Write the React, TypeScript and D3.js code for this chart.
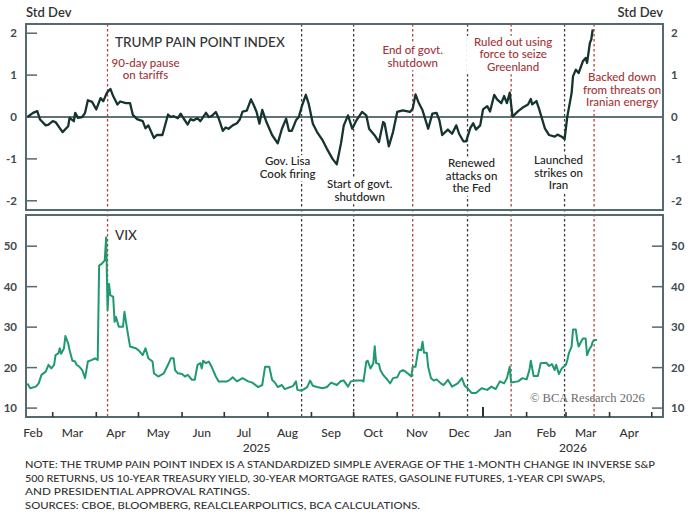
import React from 'react';
import * as d3 from 'd3';

// Trump Pain Point Index (std dev)
const painIndex: [string, number][] = [
  ['2025-02-11', 0.0], ['2025-02-15', 0.1], ['2025-02-18', 0.14], ['2025-02-20', -0.06],
  ['2025-02-24', -0.2], ['2025-02-26', -0.18], ['2025-03-01', -0.1], ['2025-03-03', -0.12],
  ['2025-03-08', -0.36], ['2025-03-12', -0.22], ['2025-03-13', -0.02], ['2025-03-16', -0.1],
  ['2025-03-17', 0.1], ['2025-03-19', -0.02], ['2025-03-22', 0.0], ['2025-03-24', 0.1],
  ['2025-03-26', 0.4], ['2025-03-29', 0.36], ['2025-04-01', 0.18], ['2025-04-04', 0.45],
  ['2025-04-06', 0.38], ['2025-04-08', 0.54], ['2025-04-09', 0.6], ['2025-04-11', 0.67],
  ['2025-04-13', 0.5], ['2025-04-16', 0.3], ['2025-04-18', 0.37], ['2025-04-22', 0.33],
  ['2025-04-25', 0.33], ['2025-04-27', 0.05], ['2025-04-30', -0.05], ['2025-05-04', -0.1],
  ['2025-05-06', -0.27], ['2025-05-08', -0.2], ['2025-05-12', -0.5], ['2025-05-14', -0.43],
  ['2025-05-18', -0.43], ['2025-05-22', 0.06], ['2025-05-24', 0.0], ['2025-05-26', 0.02],
  ['2025-05-29', -0.03], ['2025-05-31', 0.08], ['2025-06-02', -0.03], ['2025-06-05', -0.18],
  ['2025-06-07', -0.05], ['2025-06-09', -0.08], ['2025-06-12', -0.03], ['2025-06-14', -0.1],
  ['2025-06-18', 0.1], ['2025-06-20', 0.0], ['2025-06-22', 0.02], ['2025-06-25', 0.12],
  ['2025-06-27', -0.03], ['2025-06-30', -0.33], ['2025-07-02', -0.25], ['2025-07-04', -0.28],
  ['2025-07-07', -0.2], ['2025-07-10', -0.15], ['2025-07-12', -0.06], ['2025-07-14', 0.13],
  ['2025-07-17', 0.15], ['2025-07-20', 0.42], ['2025-07-22', 0.28], ['2025-07-24', 0.12],
  ['2025-07-26', -0.16], ['2025-07-28', 0.17], ['2025-07-31', -0.12], ['2025-08-04', -0.43],
  ['2025-08-08', -0.63], ['2025-08-11', -0.28], ['2025-08-14', -0.04], ['2025-08-16', -0.33],
  ['2025-08-18', -0.33], ['2025-08-21', -0.08], ['2025-08-23', 0.0], ['2025-08-25', 0.24],
  ['2025-08-28', 0.53], ['2025-08-30', 0.32], ['2025-09-02', -0.16], ['2025-09-05', -0.36],
  ['2025-09-09', -0.56], ['2025-09-12', -0.76], ['2025-09-16', -1.0], ['2025-09-19', -1.13],
  ['2025-09-22', -0.63], ['2025-09-24', -0.2], ['2025-09-27', 0.04], ['2025-09-30', -0.28],
  ['2025-10-03', -0.08], ['2025-10-07', 0.12], ['2025-10-10', 0.04], ['2025-10-12', -0.28],
  ['2025-10-16', -0.44], ['2025-10-19', -0.6], ['2025-10-22', -0.12], ['2025-10-23', -0.15],
  ['2025-10-26', -0.7], ['2025-10-29', -0.36], ['2025-11-01', 0.12], ['2025-11-05', 0.16],
  ['2025-11-10', 0.12], ['2025-11-12', 0.2], ['2025-11-14', 0.54], ['2025-11-16', 0.36],
  ['2025-11-19', 0.16], ['2025-11-23', -0.28], ['2025-11-26', 0.08], ['2025-11-29', 0.1],
  ['2025-12-01', -0.08], ['2025-12-03', -0.43], ['2025-12-07', -0.3], ['2025-12-10', -0.4],
  ['2025-12-13', -0.2], ['2025-12-15', -0.4], ['2025-12-18', -0.58], ['2025-12-20', -0.58],
  ['2025-12-23', -0.26], ['2025-12-25', -0.15], ['2025-12-27', -0.3], ['2025-12-30', -0.2],
  ['2026-01-01', 0.18], ['2026-01-04', 0.26], ['2026-01-06', 0.13], ['2026-01-09', 0.53],
  ['2026-01-11', 0.42], ['2026-01-14', 0.33], ['2026-01-16', 0.5], ['2026-01-18', 0.33],
  ['2026-01-20', 0.58], ['2026-01-22', 0.01], ['2026-01-26', 0.14], ['2026-01-29', 0.22],
  ['2026-02-02', 0.3], ['2026-02-04', 0.43], ['2026-02-05', 0.3], ['2026-02-08', 0.38],
  ['2026-02-10', 0.18], ['2026-02-14', -0.27], ['2026-02-17', -0.43], ['2026-02-21', -0.47],
  ['2026-02-23', -0.42], ['2026-02-26', -0.47], ['2026-02-28', -0.53], ['2026-03-02', 0.02],
  ['2026-03-05', 0.57], ['2026-03-06', 0.97], ['2026-03-08', 1.13], ['2026-03-10', 1.05],
  ['2026-03-13', 1.33], ['2026-03-15', 1.41], ['2026-03-16', 1.29], ['2026-03-18', 1.77],
  ['2026-03-19', 1.85], ['2026-03-20', 2.09],
];

// VIX level
const vix: [string, number][] = [
  ['2025-02-11', 16.1], ['2025-02-13', 14.9], ['2025-02-17', 15.3], ['2025-02-19', 16.1],
  ['2025-02-21', 18.2], ['2025-02-24', 19.0], ['2025-02-26', 20.7], ['2025-02-28', 19.8],
  ['2025-03-02', 20.7], ['2025-03-03', 23.1], ['2025-03-05', 23.5], ['2025-03-06', 24.8],
  ['2025-03-07', 23.4], ['2025-03-09', 24.8], ['2025-03-10', 27.8], ['2025-03-12', 26.0],
  ['2025-03-13', 24.3], ['2025-03-15', 21.7], ['2025-03-17', 21.5], ['2025-03-18', 20.7],
  ['2025-03-20', 20.2], ['2025-03-22', 19.4], ['2025-03-24', 17.4], ['2025-03-26', 21.5],
  ['2025-03-29', 21.9], ['2025-03-31', 22.3], ['2025-04-02', 21.9], ['2025-04-03', 45.2],
  ['2025-04-05', 45.7], ['2025-04-07', 46.5], ['2025-04-08', 52.2], ['2025-04-09', 34.2],
  ['2025-04-10', 40.7], ['2025-04-11', 37.9], ['2025-04-13', 37.5], ['2025-04-14', 31.3],
  ['2025-04-15', 32.5], ['2025-04-17', 30.1], ['2025-04-20', 30.1], ['2025-04-21', 33.8],
  ['2025-04-23', 29.3], ['2025-04-25', 25.2], ['2025-04-29', 24.8], ['2025-05-01', 24.3],
  ['2025-05-04', 23.1], ['2025-05-06', 24.8], ['2025-05-08', 22.3], ['2025-05-11', 21.5],
  ['2025-05-12', 18.6], ['2025-05-15', 17.8], ['2025-05-19', 18.6], ['2025-05-22', 20.7],
  ['2025-05-24', 22.3], ['2025-05-26', 22.3], ['2025-05-27', 19.4], ['2025-05-29', 18.6],
  ['2025-06-01', 18.4], ['2025-06-03', 17.8], ['2025-06-05', 18.2], ['2025-06-08', 17.0],
  ['2025-06-10', 17.0], ['2025-06-12', 20.7], ['2025-06-14', 21.1], ['2025-06-15', 19.8],
  ['2025-06-16', 21.7], ['2025-06-18', 21.1], ['2025-06-20', 21.5], ['2025-06-22', 20.2],
  ['2025-06-25', 17.8], ['2025-06-27', 16.6], ['2025-06-30', 16.6], ['2025-07-03', 16.6],
  ['2025-07-05', 17.0], ['2025-07-07', 17.6], ['2025-07-10', 16.6], ['2025-07-14', 17.4],
  ['2025-07-18', 16.6], ['2025-07-21', 16.3], ['2025-07-25', 15.2], ['2025-07-28', 15.7],
  ['2025-07-30', 20.2], ['2025-08-02', 20.2], ['2025-08-04', 17.0], ['2025-08-06', 16.3],
  ['2025-08-08', 15.2], ['2025-08-11', 15.7], ['2025-08-13', 14.7], ['2025-08-17', 15.2],
  ['2025-08-19', 15.5], ['2025-08-21', 16.6], ['2025-08-22', 14.5], ['2025-08-25', 14.3],
  ['2025-08-29', 15.2], ['2025-08-31', 16.8], ['2025-09-02', 15.5], ['2025-09-05', 15.2],
  ['2025-09-09', 14.9], ['2025-09-12', 15.2], ['2025-09-15', 16.3], ['2025-09-19', 15.7],
  ['2025-09-22', 16.7], ['2025-09-24', 16.8], ['2025-09-27', 15.3], ['2025-09-29', 16.6],
  ['2025-10-03', 16.8], ['2025-10-07', 16.8], ['2025-10-08', 16.6], ['2025-10-10', 21.5],
  ['2025-10-11', 21.7], ['2025-10-13', 19.8], ['2025-10-15', 21.1], ['2025-10-16', 25.3],
  ['2025-10-17', 21.1], ['2025-10-19', 20.9], ['2025-10-20', 19.4], ['2025-10-22', 18.2],
  ['2025-10-25', 17.0], ['2025-10-27', 16.1], ['2025-10-29', 17.4], ['2025-11-01', 17.6],
  ['2025-11-03', 19.0], ['2025-11-05', 19.4], ['2025-11-07', 19.0], ['2025-11-09', 18.4],
  ['2025-11-11', 17.8], ['2025-11-12', 20.2], ['2025-11-14', 20.2], ['2025-11-16', 24.5],
  ['2025-11-18', 24.3], ['2025-11-19', 26.4], ['2025-11-20', 23.7], ['2025-11-22', 23.7],
  ['2025-11-23', 20.2], ['2025-11-25', 17.4], ['2025-11-27', 16.8], ['2025-11-29', 17.1],
  ['2025-12-02', 16.1], ['2025-12-04', 15.7], ['2025-12-07', 17.0], ['2025-12-10', 15.3],
  ['2025-12-14', 16.1], ['2025-12-17', 17.4], ['2025-12-19', 15.5], ['2025-12-21', 14.9],
  ['2025-12-24', 13.7], ['2025-12-27', 13.7], ['2025-12-31', 14.9], ['2026-01-04', 14.5],
  ['2026-01-07', 15.3], ['2026-01-10', 14.7], ['2026-01-13', 16.6], ['2026-01-16', 16.1],
  ['2026-01-18', 17.4], ['2026-01-20', 20.2], ['2026-01-21', 16.3], ['2026-01-26', 16.6],
  ['2026-01-29', 17.4], ['2026-02-01', 17.1], ['2026-02-03', 19.4], ['2026-02-04', 21.7],
  ['2026-02-06', 17.9], ['2026-02-09', 17.9], ['2026-02-11', 21.1], ['2026-02-15', 21.2],
  ['2026-02-17', 20.4], ['2026-02-19', 20.9], ['2026-02-21', 19.4], ['2026-02-22', 20.7],
  ['2026-02-24', 18.4], ['2026-02-26', 19.8], ['2026-03-01', 20.7], ['2026-03-02', 21.9],
  ['2026-03-03', 23.5], ['2026-03-05', 25.2], ['2026-03-06', 29.4], ['2026-03-08', 29.4],
  ['2026-03-09', 26.8], ['2026-03-10', 25.2], ['2026-03-13', 27.2], ['2026-03-15', 27.2],
  ['2026-03-16', 23.1], ['2026-03-18', 24.8], ['2026-03-19', 25.2], ['2026-03-20', 26.4],
  ['2026-03-21', 26.8], ['2026-03-23', 26.8],
];

// event markers
const eventDates = ['2025-04-09', '2025-08-25', '2025-10-01', '2025-11-12', '2025-12-21', '2026-01-21', '2026-02-28', '2026-03-21'];
const eventRed = [true, false, false, true, false, true, false, true];
const eventLabels = [
  ['90-day pause', 'on tariffs'],
  ['Gov. Lisa', 'Cook firing'],
  ['Start of govt.', 'shutdown'],
  ['End of govt.', 'shutdown'],
  ['Renewed', 'attacks on', 'the Fed'],
  ['Ruled out using', 'force to seize', 'Greenland'],
  ['Launched', 'strikes on', 'Iran'],
  ['Backed down', 'from threats on', 'Iranian energy'],
];
// std dev level of the first label line, and sideways offset from the line
const eventLabelLevel = [1.2, -1.15, -1.7, 1.5, -1.2, 1.7, -1.13, 0.85];
const eventLabelShift = [38, -14, 6, 0, 4, 2, -6, 28];

const indexTicks = [-2, -1, 0, 1, 2];
const vixTicks = [10, 20, 30, 40, 50];
const monthLabels = ['Feb', 'Mar', 'Apr', 'May', 'Jun', 'Jul', 'Aug', 'Sep', 'Oct', 'Nov', 'Dec', 'Jan', 'Feb', 'Mar', 'Apr'];
const yearLabels = [['2025', '2025-07-24'], ['2026', '2026-03-06']];

const footnote = [
  'NOTE: THE TRUMP PAIN POINT INDEX IS A STANDARDIZED SIMPLE AVERAGE OF THE 1-MONTH CHANGE IN INVERSE S&P',
  '500 RETURNS, US 10-YEAR TREASURY YIELD, 30-YEAR MORTGAGE RATES, GASOLINE FUTURES, 1-YEAR CPI SWAPS,',
  'AND PRESIDENTIAL APPROVAL RATINGS.',
  'SOURCES: CBOE, BLOOMBERG, REALCLEARPOLITICS, BCA CALCULATIONS.',
];
const footnoteWidths = [630, 580, 225, 395];

const W = 700;
const H = 515;
const left = 26;
const right = 663;
const top1 = 24, bot1 = 210;
const top2 = 215, bot2 = 417;

const FONT = 'Lato, "Open Sans", sans-serif';
const RED = '#a3353b';
const FRAME = '#56696e';
const DARK = '#333';
const LINE_H = 12.5;

const parse = d3.timeParse('%Y-%m-%d');

const App: React.FC = () => {
  const x = d3.scaleTime()
    .domain([parse('2025-02-10')!, parse('2026-05-09')!])
    .range([left, right]);
  const yIdx = d3.scaleLinear().domain([-2.22, 2.22]).range([bot1, top1]);
  const yVix = d3.scaleLinear().domain([7.8, 57.7]).range([bot2, top2]);

  const idxLine = d3.line<[string, number]>()
    .x(d => x(parse(d[0])!))
    .y(d => yIdx(d[1]));
  const vixLine = d3.line<[string, number]>()
    .x(d => x(parse(d[0])!))
    .y(d => yVix(d[1]));

  // month ticks and mid-month labels
  const monthStarts = d3.timeMonth.range(parse('2025-02-01')!, parse('2026-05-02')!);
  const tickMonths = monthStarts.filter(d => x(d) > left + 1 && x(d) < right);
  const labelMonths = monthStarts.slice(0, monthLabels.length);

  return (
    <svg width={W} height={H} style={{ position: 'absolute', left: 0, top: 0, background: '#fff' }}
      fontFamily={FONT}>
      {/* axis unit titles */}
      <text x={left} y={17} fontSize={13} fill={DARK} fontWeight={600}>Std Dev</text>
      <text x={right} y={17} fontSize={13} fill={DARK} fontWeight={600} textAnchor="end">Std Dev</text>

      {/* top panel */}
      <line x1={left} x2={right} y1={yIdx(0)} y2={yIdx(0)} stroke="#2b4449" strokeWidth={1.3} />
      {indexTicks.map(t => (
        <g key={'it' + t}>
          <line x1={left} x2={left + 11} y1={yIdx(t)} y2={yIdx(t)} stroke={FRAME} strokeWidth={1.5} />
          <text x={17} y={yIdx(t) + 4} fontSize={11.5} fontWeight={700} fill="#3d4b50" textAnchor="end">{t}</text>
          <text x={671} y={yIdx(t) + 4} fontSize={11.5} fontWeight={700} fill="#3d4b50">{t}</text>
        </g>
      ))}
      <text x={115} y={47} fontSize={13.5} fill={DARK} fontWeight={500}>TRUMP PAIN POINT INDEX</text>

      {/* bottom panel ticks */}
      {vixTicks.map(t => (
        <g key={'vt' + t}>
          <line x1={left} x2={left + 11} y1={yVix(t)} y2={yVix(t)} stroke={FRAME} strokeWidth={1.5} />
          <line x1={right - 11} x2={right} y1={yVix(t)} y2={yVix(t)} stroke={FRAME} strokeWidth={1.5} />
          <text x={17} y={yVix(t) + 4} fontSize={11.5} fontWeight={700} fill="#3d4b50" textAnchor="end">{t}</text>
          <text x={671} y={yVix(t) + 4} fontSize={11.5} fontWeight={700} fill="#3d4b50">{t}</text>
        </g>
      ))}
      <text x={115} y={240} fontSize={13.5} fill={DARK} fontWeight={500}>VIX</text>
      <text x={530} y={402} fontSize={12.5} fill="#6a6a6a" fontFamily='"Liberation Serif", "DejaVu Serif", serif'>© BCA Research 2026</text>

      {/* event lines */}
      {eventDates.map((d, i) => (
        <line key={'ev' + i} x1={x(parse(d)!)} x2={x(parse(d)!)} y1={top1} y2={bot2}
          stroke={eventRed[i] ? '#b0413f' : '#3a3a3a'} strokeWidth={1.3} strokeDasharray="2.5,2.5" />
      ))}
      {/* event labels, on white boxes that hide the dashed line */}
      {eventDates.map((d, i) => {
        const cx = x(parse(d)!) + eventLabelShift[i];
        const y0 = yIdx(eventLabelLevel[i]);
        const n = eventLabels[i].length;
        const w = d3.max(eventLabels[i], s => s.length)! * 5.9 + 4;
        return (
          <g key={'el' + i}>
            <rect x={cx - w / 2} y={y0 - 10} width={w} height={(n - 1) * LINE_H + 13.5} fill="#fff" />
            <text fontSize={11.5} fill={eventRed[i] ? RED : '#222'} textAnchor="middle" fontWeight={500}>
              {eventLabels[i].map((s, j) => (
                <tspan key={j} x={cx} y={y0 + j * LINE_H}>{s}</tspan>
              ))}
            </text>
          </g>
        );
      })}

      {/* series */}
      <path d={idxLine(painIndex) ?? ''} fill="none" stroke="#15332f" strokeWidth={2.3} strokeLinejoin="round" />
      <path d={vixLine(vix) ?? ''} fill="none" stroke="#1f9a6e" strokeWidth={2} strokeLinejoin="round" />

      {/* frames */}
      <rect x={left} y={top1} width={right - left} height={bot1 - top1} fill="none" stroke={FRAME} strokeWidth={2} />
      <rect x={left} y={top2} width={right - left} height={bot2 - top2} fill="none" stroke={FRAME} strokeWidth={2} />

      {/* x axis */}
      {tickMonths.map(d => (
        <line key={'xt' + d.getTime()} x1={x(d)} x2={x(d)} y1={bot2}
          y2={bot2 - (d.getMonth() === 0 ? 10 : 5)} stroke="#26363a" strokeWidth={d.getMonth() === 0 ? 2 : 1.6} />
      ))}
      {labelMonths.map((d, i) => (
        <text key={'ml' + i} x={x(d3.timeDay.offset(d, 14))} y={437} fontSize={12} fill={DARK}
          fontWeight={500} textAnchor="middle">{monthLabels[i]}</text>
      ))}
      {yearLabels.map(([s, d]) => (
        <text key={s} x={x(parse(d)!)} y={452} fontSize={12} fill={DARK} fontWeight={500} textAnchor="middle">{s}</text>
      ))}

      {/* footnote */}
      {footnote.map((s, i) => (
        <text key={'fn' + i} x={25} y={468 + i * 13.5} fontSize={10} fill={DARK} fontWeight={500}
          textLength={footnoteWidths[i]} lengthAdjust="spacingAndGlyphs">{s}</text>
      ))}
    </svg>
  );
};

export default App;
